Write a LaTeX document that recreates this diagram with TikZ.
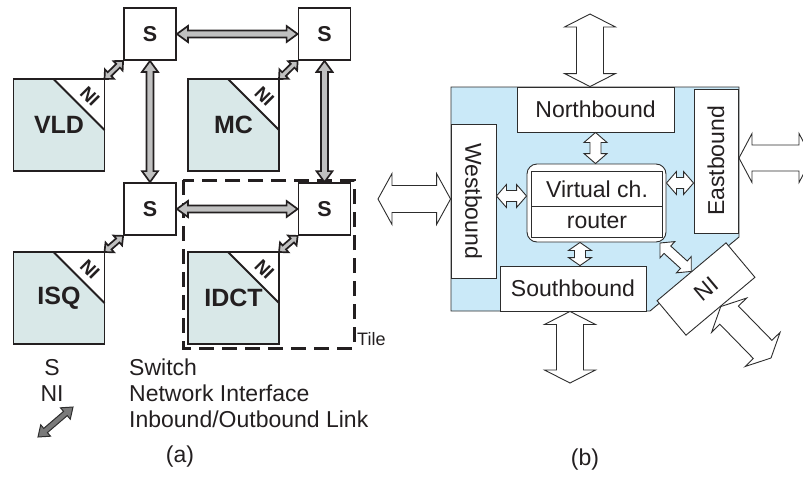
\documentclass[tikz,border=0pt]{standalone}
\usepackage{fontspec}
\setmainfont{Liberation Sans}
\usetikzlibrary{calc}
\definecolor{modfill}{RGB}{217,232,232}
\definecolor{routerbg}{RGB}{202,233,248}
\definecolor{linkgray}{RGB}{192,192,192}
\definecolor{legendgray}{RGB}{122,122,122}
\definecolor{ink}{RGB}{35,31,32}
\definecolor{thinink}{RGB}{45,45,45}
% double-headed block arrow: [style]{start}{end}{shaft half width}{head half width}{head length}
\newcommand\dblarr[6][]{%
  \coordinate (dA) at (#2);
  \coordinate (dB) at (#3);
  \coordinate (dP) at ($(dA)!#6!(dB)$);
  \coordinate (dQ) at ($(dB)!#6!(dA)$);
  \draw[#1] (dA) -- ($(dP)!#5!90:(dB)$) -- ($(dP)!#4!90:(dB)$)
    -- ($(dQ)!#4!-90:(dA)$) -- ($(dQ)!#5!-90:(dA)$) -- (dB)
    -- ($(dQ)!#5!90:(dA)$) -- ($(dQ)!#4!90:(dA)$)
    -- ($(dP)!#4!-90:(dB)$) -- ($(dP)!#5!-90:(dB)$) -- cycle;
}
% processing element with NI corner: {name}{centre}{label}
\newcommand\pebox[3]{%
  \node[pe] (#1) at (#2) {#3};
  \fill[white] ($(#1.north east)+(-51,0)$) -- (#1.north east) -- ($(#1.north east)+(0,51)$) -- cycle;
  \draw[inkline] ($(#1.north east)+(-51,0)$) -- ($(#1.north east)+(0,51)$);
  \draw[inkline] (#1.south west) rectangle (#1.north east);
  \node[nilab] (#1ni) at ($(#1.north east)+(-14.5,17.5)$) {NI};
}
\begin{document}
\begin{tikzpicture}[x=1pt,y=-1pt,
  inkline/.style={draw=ink,line width=1.8pt},
  switchbox/.style={draw=ink,line width=1.8pt,fill=white,minimum width=52pt,minimum height=52pt,
    inner sep=0pt,text=ink,font=\fontsize{21.5}{25}\selectfont\bfseries},
  pe/.style={fill=modfill,minimum width=91pt,minimum height=92pt,inner sep=0pt,outer sep=0pt,
    text=ink,font=\fontsize{25}{30}\selectfont\bfseries},
  nilab/.style={rotate=-45,inner sep=0pt,text=ink,font=\fontsize{18.5}{22}\selectfont\bfseries},
  glink/.style={fill=linkgray,draw=ink,line width=1.7pt},
  lglink/.style={fill=legendgray,draw=thinink,line width=1pt},
  tileline/.style={draw=ink,line width=3pt,dash pattern=on 15pt off 8pt},
  txt/.style={inner sep=0pt,text=ink,font=\fontsize{23}{27}\selectfont},
  port/.style={draw=thinink,line width=0.9pt,fill=white,inner sep=0pt,text=ink,
    font=\fontsize{23}{27}\selectfont},
  hollow/.style={fill=white,draw=thinink,line width=0.9pt}
]
\useasboundingbox (0,0) rectangle (803,477);
\clip (0,0) rectangle (803,477);

% ---------------- (a) ----------------
\draw[tileline] (183,180) rectangle (354,348);
\node[txt,anchor=west,font=\fontsize{18}{21}\selectfont] (tile) at (357,339) {Tile};

\node[switchbox] (S1) at (150,34) {S};
\node[switchbox] (S2) at (324.5,34) {S};
\node[switchbox] (S3) at (150,209) {S};
\node[switchbox] (S4) at (324.5,209) {S};

\pebox{vld}{59,125}{VLD}
\pebox{mc}{233.5,125}{MC}
\pebox{isq}{59,298}{ISQ}
\pebox{idct}{233.5,298}{IDCT}

\dblarr[glink]{S1.east}{S2.west}{3.5pt}{8pt}{11pt}
\dblarr[glink]{S3.east}{S4.west}{3.5pt}{8pt}{11pt}
\dblarr[glink]{S1.south}{S3.north}{3.5pt}{8pt}{11pt}
\dblarr[glink]{S2.south}{S4.north}{3.5pt}{8pt}{11pt}
\dblarr[glink]{vld.north east}{S1.south west}{2.6pt}{6.5pt}{7pt}
\dblarr[glink]{mc.north east}{S2.south west}{2.6pt}{6.5pt}{7pt}
\dblarr[glink]{isq.north east}{S3.south west}{2.6pt}{6.5pt}{7pt}
\dblarr[glink]{idct.north east}{S4.south west}{2.6pt}{6.5pt}{7pt}

% legend
\node[txt,anchor=base] (lgS) at (52,375) {S};
\node[txt,anchor=base] (lgNI) at (52,401) {NI};
\coordinate (lgA) at (38,437);
\coordinate (lgB) at (73,407);
\dblarr[lglink]{lgA}{lgB}{2.8pt}{7.5pt}{10pt}
\node[txt,anchor=base west] (lgt1) at (129,375) {Switch};
\node[txt,anchor=base west] (lgt2) at (129,401) {Network Interface};
\node[txt,anchor=base west] (lgt3) at (129,427) {Inbound/Outbound Link};
\node[txt] (capa) at (180,457) {(a)};

% ---------------- (b) ----------------
\filldraw[fill=routerbg,draw=thinink,line width=0.9pt]
  (451,87) -- (739,87) -- (739,237) -- (650,311) -- (451,311) -- cycle;
\node[port,minimum width=157pt,minimum height=45pt] (NB) at (595.5,109.5) {Northbound};
\node[port,minimum width=144pt,minimum height=44pt,rotate=90] (EB) at (716,161) {Eastbound};
\node[port,minimum width=154pt,minimum height=45pt,rotate=-90] (WB) at (473.5,201) {Westbound};
\node[port,minimum width=146pt,minimum height=45pt] (SB) at (573,288.5) {Southbound};

\node[port,rounded corners=10pt,minimum width=139pt,minimum height=78pt] (R) at (596.5,203) {};
\draw[draw=thinink,line width=0.9pt] ($(R.north west)+(5,8)$) rectangle ($(R.south east)+(-4,-5)$);
\draw[draw=thinink,line width=0.9pt] ($(R.west)+(5,3)$) -- ($(R.east)+(-4,3)$);
\node[txt] (vc) at (597,189) {Virtual ch.};
\node[txt] (rt) at (597,221.5) {router};

\node[port,minimum width=90pt,minimum height=45pt,rotate=40] (NIb) at (706,289) {NI};

% outer links
\coordinate (nOut) at (590,14);
\coordinate (sOut) at (570,383);
\coordinate (wOut) at (378,199);
\coordinate (eOut) at (812,158);
\coordinate (niOut) at (771,358);
\dblarr[hollow]{nOut}{NB.north -| nOut}{13.5pt}{25.5pt}{13pt}
\dblarr[hollow]{SB.south -| sOut}{sOut}{13.5pt}{25.5pt}{13pt}
\dblarr[hollow]{wOut}{WB.south |- wOut}{13.5pt}{25.5pt}{14pt}
\dblarr[hollow]{739,158}{eOut}{13pt}{24.5pt}{13pt}
\dblarr[hollow]{NIb.south}{niOut}{13pt}{24.5pt}{12pt}

% inner links
\coordinate (wIn) at (510,196);
\coordinate (eIn) at (680,183);
\coordinate (sIn) at (580,254);
\coordinate (rNI) at (660,243);
\dblarr[hollow]{NB.south}{NB.south |- R.north}{5.5pt}{11.5pt}{10pt}
\dblarr[hollow]{WB.north |- wIn}{R.west |- wIn}{5.5pt}{11.5pt}{10pt}
\dblarr[hollow]{R.east |- eIn}{EB.north |- eIn}{5.5pt}{11.5pt}{10pt}
\dblarr[hollow]{R.south -| sIn}{SB.north -| sIn}{5.5pt}{11.5pt}{8pt}
\dblarr[hollow]{rNI}{NIb.north}{5pt}{11pt}{10pt}

\node[txt] (capb) at (585,460) {(b)};
\end{tikzpicture}
\end{document}
